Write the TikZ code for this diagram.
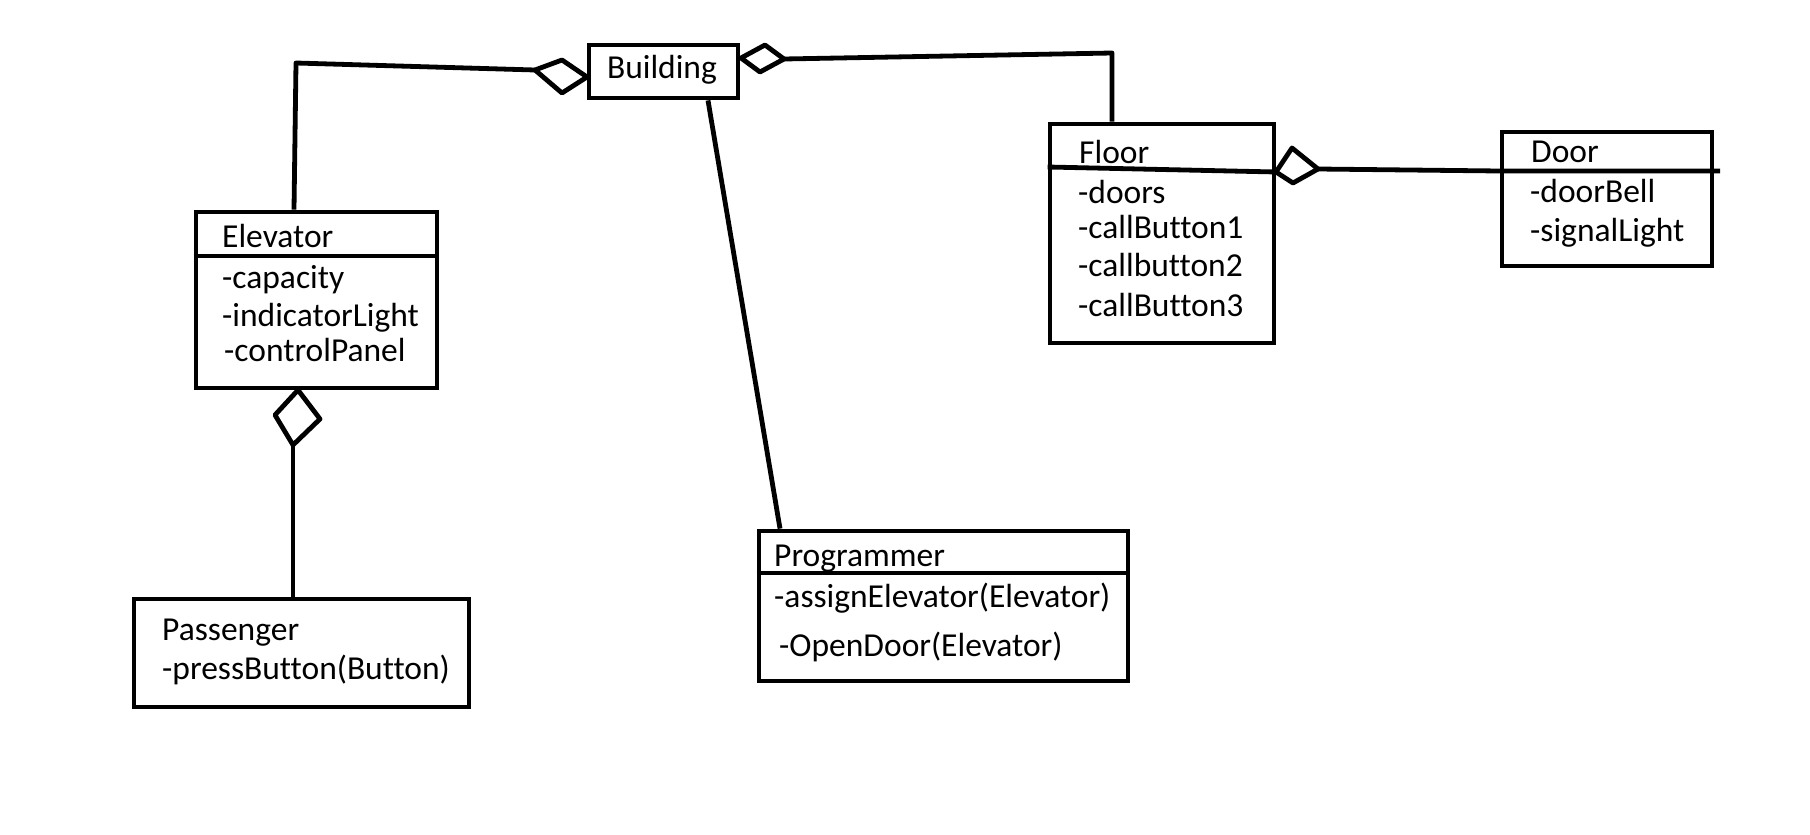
\documentclass[tikz,border=0pt]{standalone}
\usepackage{fontspec}
\setmainfont{Carlito}[Ligatures=NoCommon]
\begin{document}
\begin{tikzpicture}[x=1pt,y=-1pt,
  classbox/.style={draw,line width=4.8pt,rectangle,inner sep=0pt},
  txt/.style={anchor=base west,inner sep=0pt,font=\fontsize{33.5}{40}\selectfont},
  conn/.style={line width=4.8pt,line join=round},
  agg/.style={line width=4.8pt,line join=round,fill=white}]
\useasboundingbox (0,0) rectangle (1810,835);
\fill[white] (0,0) rectangle (1810,835);

% class boxes
\node[classbox,minimum width=149pt,minimum height=53pt] (building) at (663.5,71.5) {};
\node[classbox,minimum width=241pt,minimum height=176pt] (elevator) at (316.5,300) {};
\node[classbox,minimum width=224pt,minimum height=219pt] (floor) at (1162,233.5) {};
\node[classbox,minimum width=210pt,minimum height=134pt] (door) at (1607,199) {};
\node[classbox,minimum width=335pt,minimum height=108pt] (passenger) at (301.5,653) {};
\node[classbox,minimum width=369pt,minimum height=150pt] (programmer) at (943.5,606) {};

% texts
\node[txt,anchor=base] (tb) at (662,78) {Building};

\node[txt] (te0) at (222,247) {Elevator};
\node[txt] (te1) at (222,288) {-capacity};
\node[txt] (te2) at (222,326) {-indicatorLight};
\node[txt] (te3) at (224,361) {-controlPanel};

\node[txt] (tf0) at (1079,163) {Floor};
\node[txt] (tf1) at (1078,203) {-doors};
\node[txt] (tf2) at (1078,238) {-callButton1};
\node[txt] (tf3) at (1078,276) {-callbutton2};
\node[txt] (tf4) at (1078,316) {-callButton3};

\node[txt] (td0) at (1531,162) {Door};
\node[txt] (td1) at (1530,202) {-doorBell};
\node[txt] (td2) at (1530,241) {-signalLight};

\node[txt] (tp0) at (162,640) {Passenger};
\node[txt] (tp1) at (162,679) {-pressButton(Button)};

\node[txt] (tr0) at (774,566) {Programmer};
\node[txt] (tr1) at (774,607) {-assignElevator(Elevator)};
\node[txt] (tr2) at (779,656) {-OpenDoor(Elevator)};

% compartment dividers
\draw[conn] (elevator.west |- 0,256) -- (elevator.east |- 0,256);
\draw[conn] (floor.west |- 0,167) -- (floor.east |- 0,172);
\draw[conn] (programmer.west |- 0,573) -- (programmer.east |- 0,573);

% aggregation diamonds
\coordinate (d1l) at (535,70); \coordinate (d1t) at (562,60);
\coordinate (d1r) at (587,77); \coordinate (d1b) at (562,93);
\draw[agg] (d1l) -- (d1t) -- (d1r) -- (d1b) -- cycle;

\coordinate (d2l) at (741,58); \coordinate (d2t) at (765,45);
\coordinate (d2r) at (784,59); \coordinate (d2b) at (760,72);
\draw[agg] (d2l) -- (d2t) -- (d2r) -- (d2b) -- cycle;

\coordinate (d3l) at (1276,172); \coordinate (d3t) at (1292,148);
\coordinate (d3r) at (1318,169); \coordinate (d3b) at (1293,183);
\draw[agg] (d3l) -- (d3t) -- (d3r) -- (d3b) -- cycle;

\coordinate (d4t) at (298,390); \coordinate (d4r) at (320,419);
\coordinate (d4b) at (293,445); \coordinate (d4l) at (275,415);
\draw[agg] (d4t) -- (d4r) -- (d4b) -- (d4l) -- cycle;

% connectors
\coordinate (eb) at (296,63);
\coordinate (fb1) at (1112,53);
\coordinate (dr) at (1720,171);
\draw[conn] (elevator.north -| 294,0) -- (eb) -- (d1l);
\draw[conn] (d2r) -- (fb1) -- (floor.north -| fb1);
\draw[conn] (d3r) -- (door.west |- 0,171) -- (dr);
\draw[conn] (d4b) -- (passenger.north -| d4b);
\draw[conn] (building.south -| 708,0) -- (programmer.north -| 780,0);
\end{tikzpicture}
\end{document}
